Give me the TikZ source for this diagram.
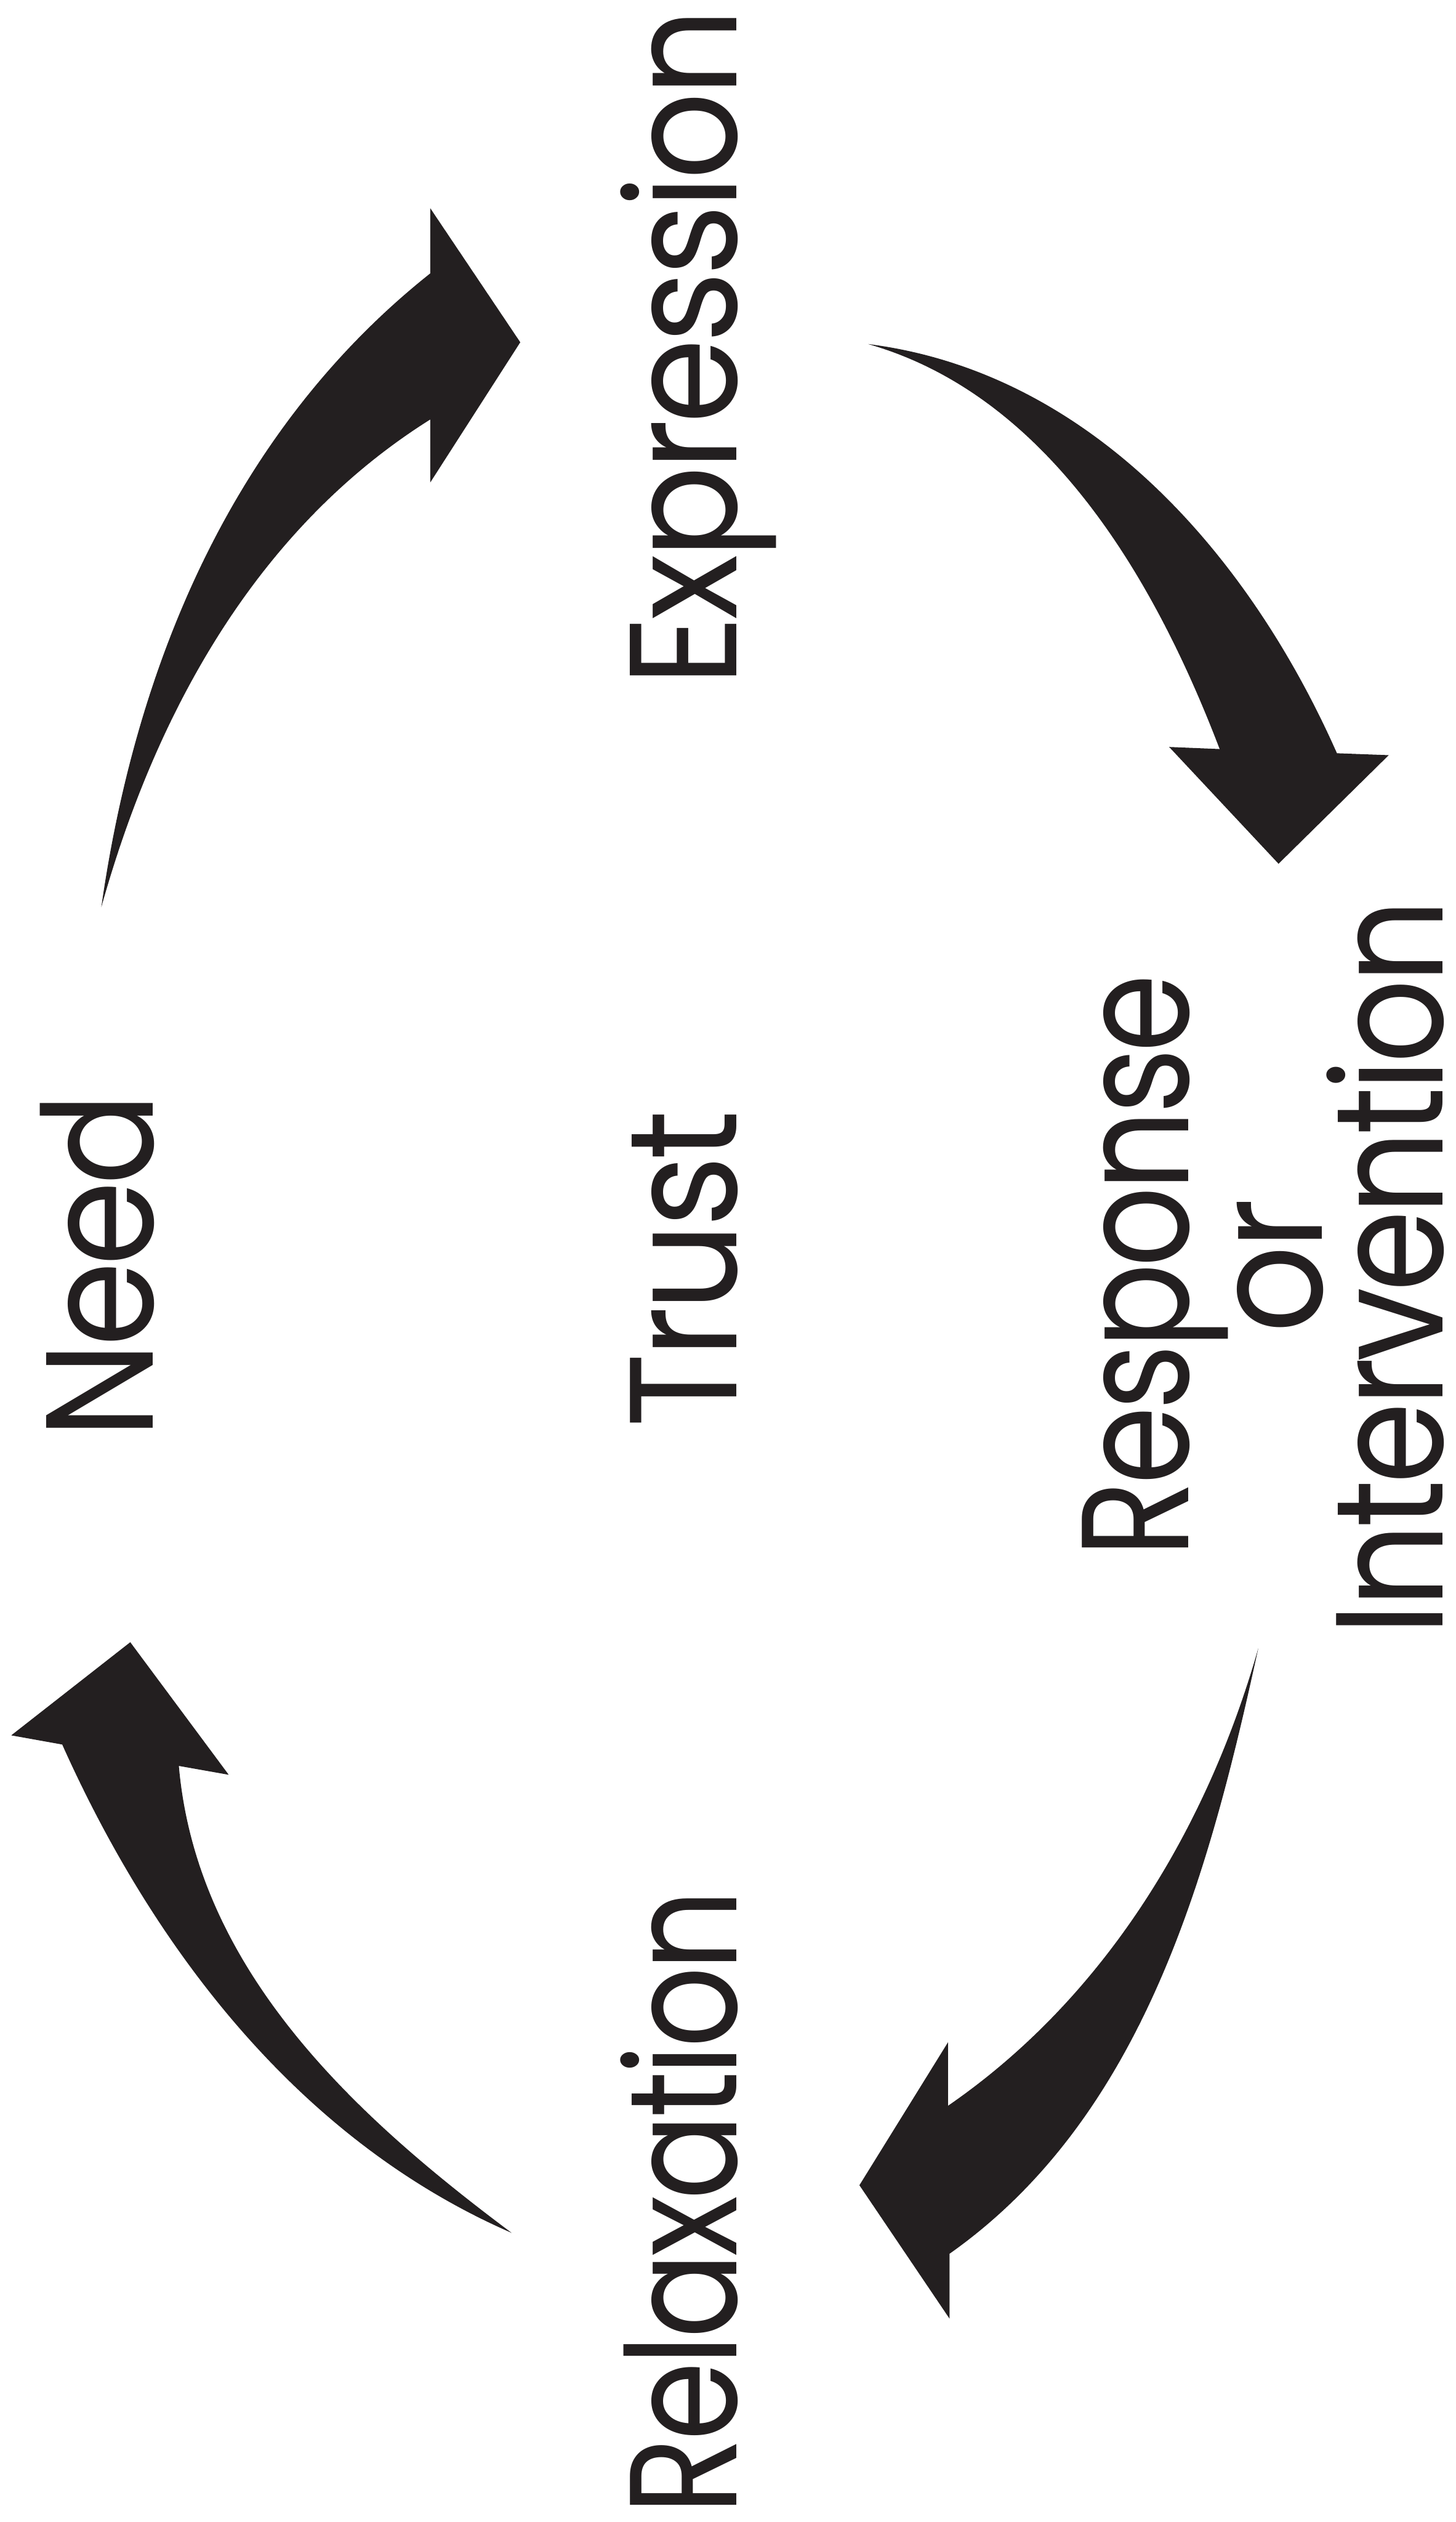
\documentclass[tikz,border=0pt]{standalone}
\usepackage{fontspec}
\setmainfont[FakeStretch=0.9,LetterSpace=-3]{Poppins}
\usepackage{xcolor}
\definecolor{ink}{HTML}{231F20}

\begin{document}
\begin{tikzpicture}[x=0.1mm,y=-0.1mm,
  lbl/.style={rotate=90,anchor=base,inner sep=0pt,text=ink,font=\fontsize{27}{32}\selectfont},
  blob/.style={fill=ink,draw=none}]
\useasboundingbox (0,0) rectangle (905,1568);
\node[lbl] (need) at (95,787) {Need};
\node[lbl] (expr) at (458,216) {Expression};
\node[lbl] (trust) at (458,789) {Trust};
\node[lbl,xscale=0.92] (resp) at (739,787) {Response};
\node[lbl] (or) at (822,787) {or};
\node[lbl,xscale=0.96] (interv) at (897,788) {Intervention};
\node[lbl,xscale=0.93] (relax) at (458,1369) {Relaxation};
% need -> expression
\fill[blob] (63,564) .. controls (84.7,411.4) and (145.8,266.7) .. (267.5,170)
  -- (267.5,129.4) -- (323.5,212.8) -- (267.5,300) -- (267.5,260.8)
  .. controls (159,328.9) and (96.5,444) .. (63,564) -- cycle;
% expression -> response
\fill[blob] (539.8,213.9) .. controls (679.4,231.6) and (777.6,347) .. (831.3,468.3)
  -- (863.5,469.5) -- (795,537) -- (727,464.4) -- (758.4,465.7)
  .. controls (719.7,364.4) and (653.9,246.4) .. (539.8,213.9) -- cycle;
% response -> relaxation
\fill[blob] (782.4,1024.8) .. controls (752.3,1162.3) and (712.2,1315.3) .. (590.4,1401.2)
  -- (590.4,1441.5) -- (534.4,1358.6) -- (589.5,1269.7) -- (589.5,1309.2)
  .. controls (687,1242) and (750.4,1137.3) .. (782.4,1024.8) -- cycle;
% relaxation -> need
\fill[blob] (318.1,1388.2) .. controls (186.9,1331.1) and (96.1,1212.8) .. (38.7,1084.6)
  -- (7,1078.9) -- (81,1021) -- (142.2,1103.4) -- (111.2,1097.9)
  .. controls (122.4,1225.9) and (222.1,1316.5) .. (318.1,1388.2) -- cycle;
\end{tikzpicture}
\end{document}
